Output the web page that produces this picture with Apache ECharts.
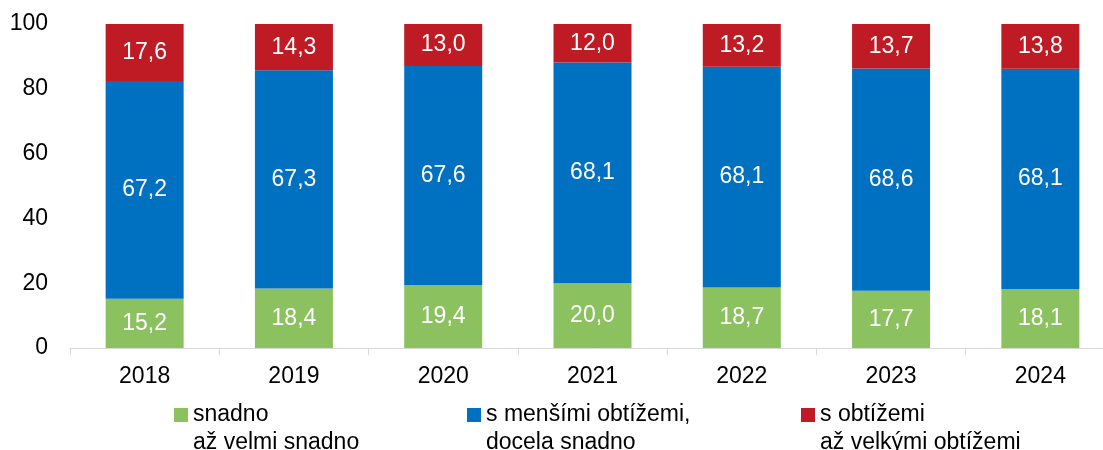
<!DOCTYPE html>
<html>
<head>
<meta charset="utf-8">
<script src="https://cdn.jsdelivr.net/npm/echarts@6/dist/echarts.min.js"></script>
<style>
  html, body { margin: 0; padding: 0; background: #fff; overflow: hidden; }
  /* the plot runs a little past the right edge of the window, like the original */
  #chart { width: 1115px; height: 450px; }
</style>
</head>
<body>
<div id="chart"></div>
<script>
// data
var years = ['2018', '2019', '2020', '2021', '2022', '2023', '2024'];
var seriesNames = ['snadno\naž velmi snadno', 's menšími obtížemi,\ndocela snadno', 's obtížemi\naž velkými obtížemi'];
var easy = [15.2, 18.4, 19.4, 20.0, 18.7, 17.7, 18.1];
var medium = [67.2, 67.3, 67.6, 68.1, 68.1, 68.6, 68.1];
var hard = [17.6, 14.3, 13.0, 12.0, 13.2, 13.7, 13.8];
var yTicks = [0, 20, 40, 60, 80, 100];

var colors = ['#8CC160', '#0070C0', '#BF1B24'];
var font = 'Liberation Sans, Arial, sans-serif';
var fs = 23;

var myChart = echarts.init(document.getElementById('chart'));

function fmt(p) {
    return p.value.toFixed(1).replace('.', ',');
}

function bar(name, data, color) {
    return {
        name: name,
        type: 'bar',
        stack: 'total',
        data: data,
        barWidth: 78,
        itemStyle: { color: color },
        label: {
            show: true,
            position: 'inside',
            color: '#fff',
            fontFamily: font,
            fontSize: fs,
            formatter: fmt
        }
    };
}

// blank first line so the icon sits beside the first text line
function legendAt(left, name) {
    return {
        left: left,
        top: 373,
        data: [name],
        icon: 'rect',
        itemWidth: 14,
        itemHeight: 14,
        itemGap: 0,
        padding: 0,
        selectedMode: false,
        formatter: function (n) { return '\n' + n; },
        textStyle: {
            fontFamily: font,
            fontSize: fs,
            color: '#000',
            lineHeight: 28
        }
    };
}

var option = {
    animation: false,
    color: colors,
    grid: { left: 70, top: 24, right: 0, height: 324 },
    legend: [
        legendAt(174, seriesNames[0]),
        legendAt(467, seriesNames[1]),
        legendAt(801, seriesNames[2])
    ],
    xAxis: {
        type: 'category',
        data: years,
        axisLine: { lineStyle: { color: '#D9D9D9', width: 1 } },
        axisTick: { show: true, length: 7, lineStyle: { color: '#D9D9D9' } },
        axisLabel: { color: '#000', fontFamily: font, fontSize: fs, margin: 17 }
    },
    yAxis: {
        type: 'value',
        min: yTicks[0],
        max: yTicks[yTicks.length - 1],
        interval: 20,
        axisLine: { show: false },
        axisTick: { show: false },
        splitLine: { show: false },
        axisLabel: { color: '#000', fontFamily: font, fontSize: fs, margin: 22 }
    },
    series: [
        bar(seriesNames[0], easy, colors[0]),
        bar(seriesNames[1], medium, colors[1]),
        bar(seriesNames[2], hard, colors[2])
    ]
};

myChart.setOption(option);
</script>
</body>
</html>
